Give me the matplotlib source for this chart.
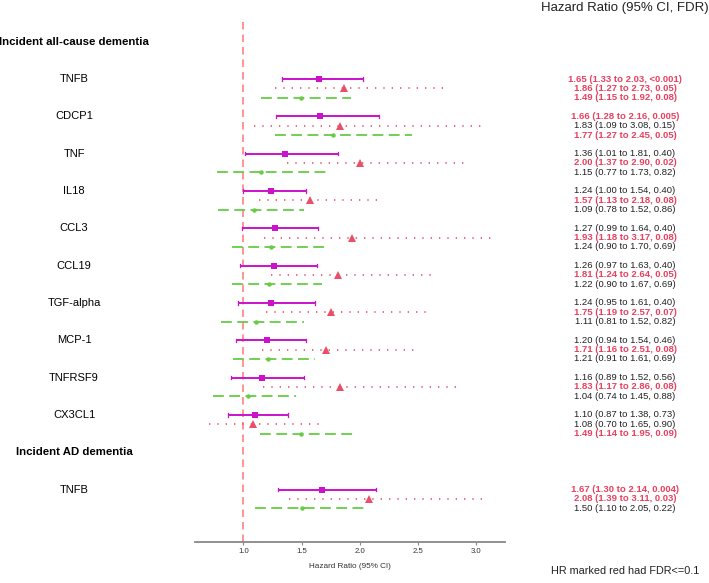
import matplotlib
matplotlib.use("Agg")
import matplotlib.pyplot as plt
from matplotlib.transforms import blended_transform_factory

plt.rcParams['font.family'] = ['Liberation Sans', 'DejaVu Sans']

# ---------------- data ----------------
sections = ["Incident all-cause dementia"] * 10 + ["Incident AD dementia"]
proteins = ["TNFB", "CDCP1", "TNF", "IL18", "CCL3", "CCL19", "TGF-alpha",
            "MCP-1", "TNFRSF9", "CX3CL1", "TNFB"]

# series 1 (magenta, solid, squares)
hr1 = [1.65, 1.66, 1.36, 1.24, 1.27, 1.26, 1.24, 1.20, 1.16, 1.10, 1.67]
lo1 = [1.33, 1.28, 1.01, 1.00, 0.99, 0.97, 0.95, 0.94, 0.89, 0.87, 1.30]
hi1 = [2.03, 2.16, 1.81, 1.54, 1.64, 1.63, 1.61, 1.54, 1.52, 1.38, 2.14]
fdr1 = ["<0.001", "0.005", "0.40", "0.40", "0.40", "0.40", "0.40", "0.46", "0.56", "0.73", "0.004"]

# series 2 (red, dotted, triangles)
hr2 = [1.86, 1.83, 2.00, 1.57, 1.93, 1.81, 1.75, 1.71, 1.83, 1.08, 2.08]
lo2 = [1.27, 1.09, 1.37, 1.13, 1.18, 1.24, 1.19, 1.16, 1.17, 0.70, 1.39]
hi2 = [2.73, 3.08, 2.90, 2.18, 3.17, 2.64, 2.57, 2.51, 2.86, 1.65, 3.11]
fdr2 = ["0.05", "0.15", "0.02", "0.08", "0.08", "0.05", "0.07", "0.08", "0.08", "0.90", "0.03"]

# series 3 (green, dashed, dots)
hr3 = [1.49, 1.77, 1.15, 1.09, 1.24, 1.22, 1.11, 1.21, 1.04, 1.49, 1.50]
lo3 = [1.15, 1.27, 0.77, 0.78, 0.90, 0.90, 0.81, 0.91, 0.74, 1.14, 1.10]
hi3 = [1.92, 2.45, 1.73, 1.52, 1.70, 1.67, 1.52, 1.61, 1.45, 1.95, 2.05]
fdr3 = ["0.08", "0.05", "0.82", "0.86", "0.69", "0.69", "0.82", "0.69", "0.88", "0.09", "0.22"]

xticks = [1.0, 1.5, 2.0, 2.5, 3.0]

# ---------------- styling ----------------
W, H = 709, 583
fig = plt.figure(figsize=(W / 100, H / 100), dpi=100)
ax_left, ax_right = 195, 505
ax_top, ax_bottom = 17, 541.7
ax = fig.add_axes([ax_left / W, (H - ax_bottom) / H,
                   (ax_right - ax_left) / W, (ax_bottom - ax_top) / H])

row_px = 9.33
y0_px = 41.7
def px_to_k(p):
    return (p - y0_px) / row_px

ax.set_xlim(0.584, 3.245)
ax.set_ylim(px_to_k(ax_bottom), px_to_k(ax_top))

# (hr, lo, hi, fdr, colour, linestyle, marker, markersize, linewidth, cap)
series = [
    (hr1, lo1, hi1, fdr1, "#CC11CC", "-", "s", 4.5, 1.4, True),
    (hr2, lo2, hi2, fdr2, "#E8506A", (0, (0.8, 4.2)), "^", 5.2, 1.2, False),
    (hr3, lo3, hi3, fdr3, "#66CC44", (0, (6, 3)), "o", 3.2, 1.3, False),
]
red_text = "#E8405E"

rows = []
k = 0
prev_sec = None
for sec in sections:
    if sec != prev_sec:
        rows.append(("header", sec, k))
        k += 4
        prev_sec = sec
    rows.append(("item", None, k))
    k += 4

trL = blended_transform_factory(fig.transFigure, ax.transData)

ax.axvline(1.0, color="#FF8080", lw=1.2, linestyle=(0, (4.5, 3)), zorder=1)

item_i = 0
for kind, sec, kk in rows:
    if kind == "header":
        ax.text(74 / W, kk, sec, transform=trL, ha="center", va="center",
                fontsize=8.2, fontweight="bold", color="black", clip_on=False)
        continue
    i = item_i
    ax.text(74 / W, kk, proteins[i], transform=trL, ha="center", va="center",
            fontsize=8, color="black", clip_on=False)
    for j, (hr, lo, hi, fdr, col, ls, mk, ms, lw, cap) in enumerate(series):
        y = kk + j
        ax.plot([lo[i], hi[i]], [y, y], color=col, linestyle=ls, lw=lw,
                zorder=2, solid_capstyle="butt")
        if cap:
            ax.plot([lo[i], lo[i]], [y - 0.18, y + 0.18], color=col, lw=0.9, zorder=2)
            ax.plot([hi[i], hi[i]], [y - 0.18, y + 0.18], color=col, lw=0.9, zorder=2)
        ax.plot(hr[i], y, marker=mk, color=col, markersize=ms, zorder=3,
                markeredgewidth=0)
        f = fdr[i]
        sig = f.startswith("<") or float(f) <= 0.1
        txt = f"{hr[i]:.2f} ({lo[i]:.2f} to {hi[i]:.2f}, {f})"
        ax.text(625 / W, y, txt, transform=trL, ha="center", va="center",
                fontsize=6.8, color=red_text if sig else "#222222",
                fontweight="bold" if sig else "normal", clip_on=False)
    item_i += 1

for s in ["top", "right", "left"]:
    ax.spines[s].set_visible(False)
ax.spines["bottom"].set_color("#888888")
ax.spines["bottom"].set_linewidth(1.3)
ax.set_yticks([])
ax.set_xticks(xticks)
ax.set_xticklabels([f"{t:.1f}" for t in xticks])
ax.tick_params(axis="x", length=2.5, width=0.8, color="#888888",
               labelsize=5.6, labelcolor="#333333", pad=2)
ax.set_xlabel("Hazard Ratio (95% CI)", fontsize=5.9, color="#333333", labelpad=6)

fig.text(625 / W, 1 - 8 / H, "Hazard Ratio (95% CI, FDR)", ha="center",
         va="center", fontsize=9.5, color="#222222")
fig.text(625 / W, 1 - 571 / H, "HR marked red had FDR<=0.1", ha="center",
         va="center", fontsize=7.8, color="#222222")

fig.savefig("out.png", dpi=100)
